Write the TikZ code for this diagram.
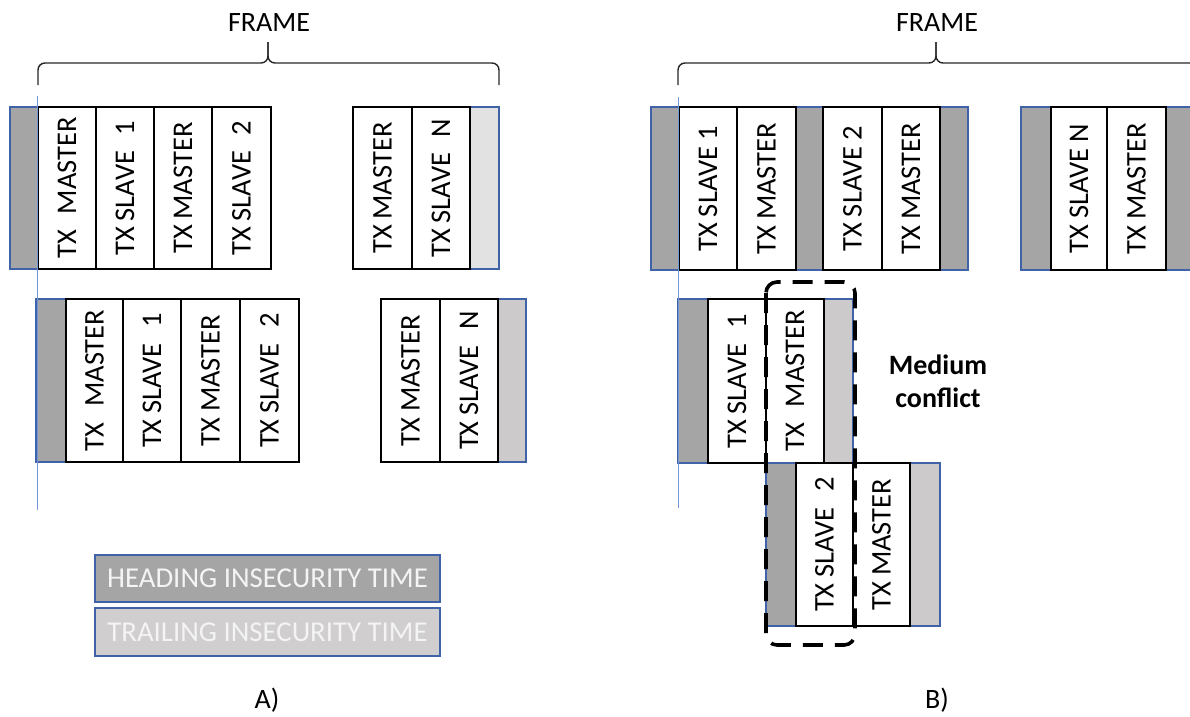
\documentclass[tikz,border=0pt]{standalone}
\usepackage{fontspec}
\setmainfont{Carlito}
\definecolor{headgray}{HTML}{A5A5A5}
\definecolor{trailA}{HTML}{E2E2E2}
\definecolor{trailB}{HTML}{CCCACA}
\definecolor{legtrail}{HTML}{D0CECE}
\definecolor{bordblue}{HTML}{3F62A8}
\definecolor{lineblue}{HTML}{7396D6}
\definecolor{legtext}{HTML}{F4F4F4}
\tikzset{
  cellbox/.style={draw=black, fill=white, line width=1.3pt},
  headbox/.style={draw=bordblue, fill=headgray, line width=1.2pt},
  trailbox/.style={draw=bordblue, line width=1.2pt},
  celltext/.style={rotate=90, inner sep=0pt, font=\fontsize{28.5}{33}\selectfont},
  bigtext/.style={inner sep=0pt, font=\fontsize{28}{33}\selectfont},
  legtextstyle/.style={inner sep=0pt, text=legtext, font=\fontsize{28.8}{33}\selectfont},
  bracestyle/.style={draw=black!85, line width=1.4pt, rounded corners=7pt},
  timeline/.style={draw=lineblue, line width=1.6pt},
  conflictbox/.style={draw=black, line width=3.6pt, dash pattern=on 20pt off 12pt, rounded corners=11pt}
}
\newcommand\tsp{\hspace{0.2em}}
\newcommand\dsp{\hspace{0.55em}}
\newcommand\cellrect[6]{%
  \draw[cellbox] (#1,#3) rectangle (#2,#4);
  \node[celltext] (#5) at ({(#1+#2)/2},{(#3+#4)/2}) {#6};}
\begin{document}
\begin{tikzpicture}[x=1pt,y=-1pt]
\useasboundingbox (0,0) rectangle (1190,716);
\clip (0,0) rectangle (1190,716);

% ---------------- Panel A ----------------
\node[bigtext] (frameA) at (269,23) {FRAME};
\draw[bracestyle] (38,85) -- (38,63) -- (268,63) -- (268,42);
\draw[bracestyle] (268,42) -- (268,63) -- (499,63) -- (499,85);

% row 1
\draw[headbox] (10,107) rectangle (38,269);
\draw[trailbox, fill=trailA] (470,107) rectangle (499,269);
\cellrect{38}{96}{107}{269}{a1}{TX\dsp MASTER}
\cellrect{96}{154}{107}{269}{a2}{TX\tsp SLAVE\dsp 1}
\cellrect{154}{212}{107}{269}{a3}{TX\tsp MASTER}
\cellrect{212}{271}{107}{269}{a4}{TX\tsp SLAVE\dsp 2}
\cellrect{353}{412}{107}{269}{a5}{TX\tsp MASTER}
\cellrect{412}{470}{107}{269}{a6}{TX\tsp SLAVE\dsp N}

% row 2
\draw[headbox] (36,299) rectangle (66,462);
\draw[trailbox, fill=trailB] (498,299) rectangle (526,462);
\cellrect{66}{123}{299}{462}{b1}{TX\dsp MASTER}
\cellrect{123}{181}{299}{462}{b2}{TX\tsp SLAVE\dsp 1}
\cellrect{181}{240}{299}{462}{b3}{TX\tsp MASTER}
\cellrect{240}{299}{299}{462}{b4}{TX\tsp SLAVE\dsp 2}
\cellrect{381}{440}{299}{462}{b5}{TX\tsp MASTER}
\cellrect{440}{498}{299}{462}{b6}{TX\tsp SLAVE\dsp N}

\coordinate (tlAtop) at (37.5,96);
\coordinate (tlAbot) at (37.5,510);
\draw[timeline] (tlAtop) -- (tlAbot);

% legend
\draw[headbox, line width=1.5pt] (95,555) rectangle (440,602);
\node[legtextstyle] (leghead) at (267.5,578.5) {HEADING INSECURITY TIME};
\draw[trailbox, fill=legtrail, line width=1.5pt] (95,608) rectangle (440,656);
\node[legtextstyle] (legtrail) at (267.5,632) {TRAILING INSECURITY TIME};

\node[bigtext] (labA) at (267,700) {A)};

% ---------------- Panel B ----------------
\node[bigtext] (frameB) at (937,23) {FRAME};
\draw[bracestyle] (678,85) -- (678,63) -- (936,63) -- (936,42);
\draw[bracestyle] (936,42) -- (936,63) -- (1200,63) -- (1200,85);

% row 1
\draw[headbox] (651,107) rectangle (679,270);
\draw[headbox] (796,107) rectangle (823,270);
\draw[headbox] (940,107) rectangle (968,270);
\draw[headbox] (1021,107) rectangle (1051,270);
\draw[headbox] (1166,107) rectangle (1205,270);
\cellrect{679}{737}{107}{270}{c1}{TX\tsp SLAVE 1}
\cellrect{737}{796}{107}{270}{c2}{TX\tsp MASTER}
\cellrect{823}{882}{107}{270}{c3}{TX\tsp SLAVE 2}
\cellrect{882}{940}{107}{270}{c4}{TX\tsp MASTER}
\cellrect{1051}{1107}{107}{270}{c5}{TX\tsp SLAVE N}
\cellrect{1107}{1166}{107}{270}{c6}{TX\tsp MASTER}

% row 2
\draw[headbox] (678,299) rectangle (708,463);
\draw[trailbox, fill=trailB] (824,299) rectangle (853,463);
\cellrect{708}{766}{299}{463}{d1}{TX\tsp SLAVE\dsp 1}
\cellrect{766}{824}{299}{463}{d2}{TX\dsp MASTER}

% row 3
\draw[headbox] (766,463) rectangle (796,626);
\draw[trailbox, fill=trailB] (910,463) rectangle (940,626);
\cellrect{796}{853}{463}{626}{e1}{TX\tsp SLAVE\dsp 2}
\cellrect{853}{910}{463}{626}{e2}{TX\tsp MASTER}

\coordinate (tlBtop) at (678.5,97);
\coordinate (tlBbot) at (678.5,508);
\draw[timeline] (tlBtop) -- (tlBbot);

% medium conflict
\draw[conflictbox] (766,282) rectangle (855,645);
\node[bigtext, font=\fontsize{28}{33}\selectfont\bfseries, align=center] (conf) at (938,381) {Medium\\conflict};

\node[bigtext] (labB) at (937,700) {B)};
\end{tikzpicture}
\end{document}
